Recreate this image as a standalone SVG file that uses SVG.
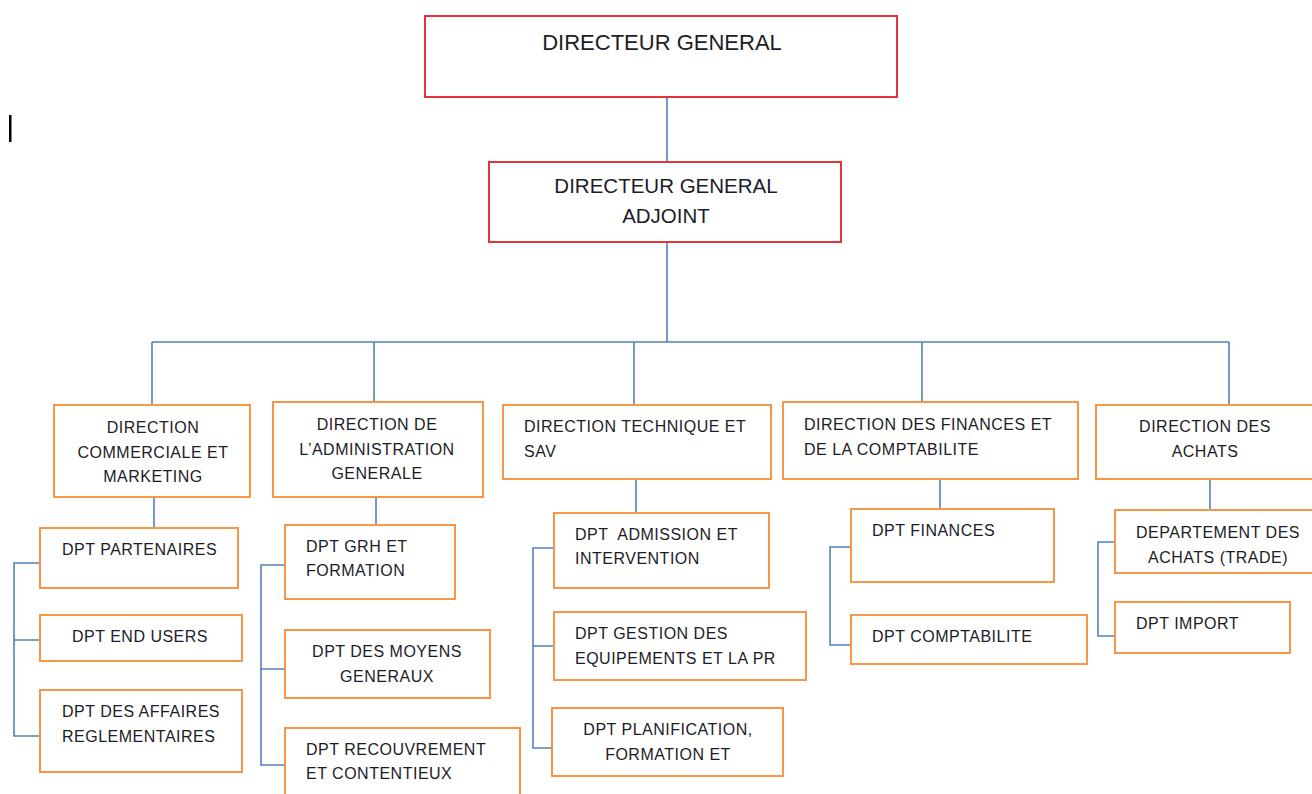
<svg xmlns="http://www.w3.org/2000/svg" width="1312" height="794" viewBox="0 0 1312 794">
<style>
.top{fill:#fff;stroke:#e5323b;stroke-width:2}
.box{fill:#fff;stroke:#f79646;stroke-width:2}
.t{font-family:"Liberation Sans",Arial,sans-serif;font-size:16px;letter-spacing:0.5px;fill:#1c1c28}
.tb{font-family:"Liberation Sans",Arial,sans-serif;font-size:20.5px;fill:#1c1c28}
.c{text-anchor:middle}
#connectors path{fill:none;stroke:#4f81bd;stroke-width:1.6}
</style>
<rect width="1312" height="794" fill="#fff"/>
<rect x="9" y="115" width="2.5" height="27" fill="#000"/>
<g id="connectors">
<path d="M667 97V162M667 242V342M152 342H1229M152 342V405M374 342V402M634 342V405M922 342V402M1229 342V405"/>
<path d="M154 497V528M376 497V525M636 479V513M940 479V509M1210 479V510"/>
<path d="M40 563H14V736H40M14 640H40"/>
<path d="M285 565H261V765H285M261 669H285"/>
<path d="M554 548H533V748H552M533 646H554"/>
<path d="M851 547H830V645H851"/>
<path d="M1115 542H1098V636H1115"/>
</g>
<g id="dg"><rect class="top" x="425" y="16" width="472" height="81"/><text class="tb c" x="662" y="50" style="font-size:22px">DIRECTEUR GENERAL</text></g>
<g id="dga"><rect class="top" x="489" y="162" width="352" height="80"/><text class="tb c" x="666" y="193">DIRECTEUR GENERAL</text><text class="tb c" x="666" y="223">ADJOINT</text></g>
<g id="dir-com"><rect class="box" x="54" y="405" width="196" height="92"/><text class="t c" x="153" y="433">DIRECTION</text><text class="t c" x="153" y="458">COMMERCIALE ET</text><text class="t c" x="153" y="482">MARKETING</text></g>
<g id="dir-adm"><rect class="box" x="273" y="402" width="210" height="95"/><text class="t c" x="377" y="430">DIRECTION DE</text><text class="t c" x="377" y="455">L’ADMINISTRATION</text><text class="t c" x="377" y="479">GENERALE</text></g>
<g id="dir-tech"><rect class="box" x="503" y="405" width="268" height="74"/><text class="t" x="524" y="432">DIRECTION TECHNIQUE ET</text><text class="t" x="524" y="457">SAV</text></g>
<g id="dir-fin"><rect class="box" x="783" y="402" width="295" height="77"/><text class="t" x="804" y="430">DIRECTION DES FINANCES ET</text><text class="t" x="804" y="455">DE LA COMPTABILITE</text></g>
<g id="dir-ach"><rect class="box" x="1096" y="405" width="230" height="74"/><text class="t c" x="1205" y="432">DIRECTION DES</text><text class="t c" x="1205" y="457">ACHATS</text></g>
<g id="dpt-part"><rect class="box" x="40" y="528" width="198" height="60"/><text class="t" x="62" y="555">DPT PARTENAIRES</text></g>
<g id="dpt-end"><rect class="box" x="40" y="615" width="202" height="46"/><text class="t" x="72" y="642">DPT END USERS</text></g>
<g id="dpt-aff"><rect class="box" x="40" y="690" width="202" height="82"/><text class="t" x="62" y="717">DPT DES AFFAIRES</text><text class="t" x="62" y="742">REGLEMENTAIRES</text></g>
<g id="dpt-grh"><rect class="box" x="285" y="525" width="170" height="74"/><text class="t" x="306" y="552">DPT GRH ET</text><text class="t" x="306" y="576">FORMATION</text></g>
<g id="dpt-moy"><rect class="box" x="285" y="630" width="205" height="68"/><text class="t c" x="387" y="657">DPT DES MOYENS</text><text class="t c" x="387" y="682">GENERAUX</text></g>
<g id="dpt-rec"><rect class="box" x="285" y="728" width="235" height="80"/><text class="t" x="306" y="755">DPT RECOUVREMENT</text><text class="t" x="306" y="779">ET CONTENTIEUX</text></g>
<g id="dpt-adm"><rect class="box" x="554" y="513" width="215" height="75"/><text class="t" x="575" y="540" xml:space="preserve">DPT  ADMISSION ET</text><text class="t" x="575" y="564">INTERVENTION</text></g>
<g id="dpt-ges"><rect class="box" x="554" y="612" width="252" height="68"/><text class="t" x="575" y="639">DPT GESTION DES</text><text class="t" x="575" y="664">EQUIPEMENTS ET LA PR</text></g>
<g id="dpt-pla"><rect class="box" x="552" y="708" width="231" height="68"/><text class="t c" x="668" y="735">DPT PLANIFICATION,</text><text class="t c" x="668" y="760">FORMATION ET</text></g>
<g id="dpt-fin"><rect class="box" x="851" y="509" width="203" height="73"/><text class="t" x="872" y="536">DPT FINANCES</text></g>
<g id="dpt-comp"><rect class="box" x="851" y="615" width="236" height="49"/><text class="t" x="872" y="642">DPT COMPTABILITE</text></g>
<g id="dpt-ach"><rect class="box" x="1115" y="510" width="210" height="63"/><text class="t c" x="1218" y="538">DEPARTEMENT DES</text><text class="t c" x="1218" y="563">ACHATS (TRADE)</text></g>
<g id="dpt-imp"><rect class="box" x="1115" y="602" width="175" height="51"/><text class="t" x="1136" y="629">DPT IMPORT</text></g>
</svg>
